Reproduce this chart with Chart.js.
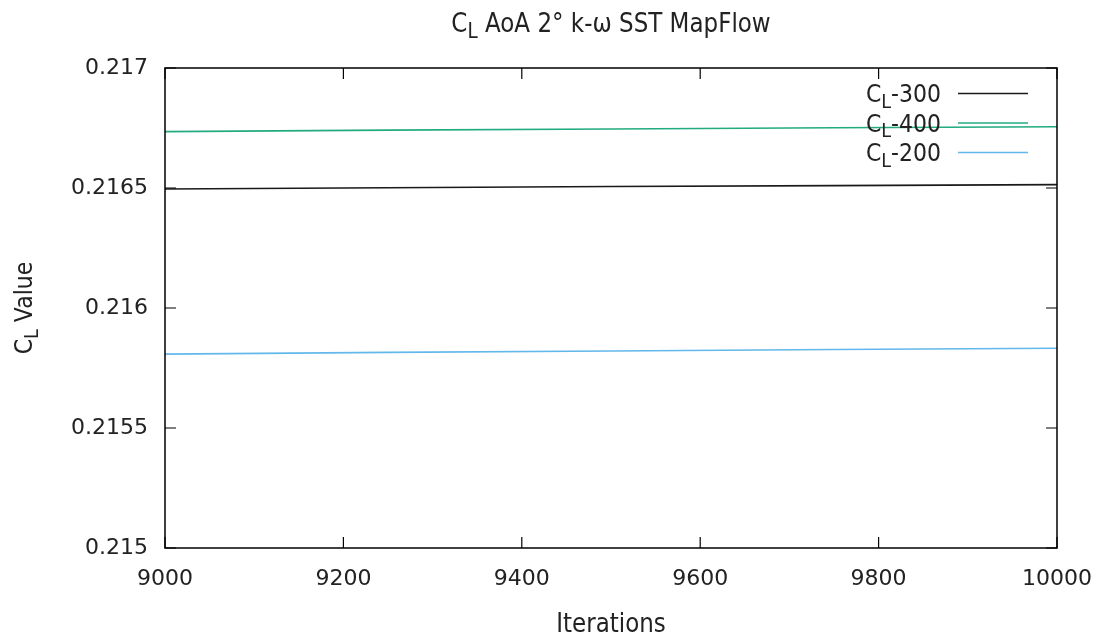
<!DOCTYPE html>
<html><head><meta charset="utf-8">
<script src="https://cdn.jsdelivr.net/npm/chart.js@4/dist/chart.umd.min.js"></script>
<style>html,body{margin:0;padding:0;background:#fff;} canvas{display:block}</style>
</head><body>
<canvas id="c" width="1105" height="637"></canvas>
<script>
const titleText = "C_L AoA 2° k-ω SST MapFlow";
const xAxisTitle = "Iterations";
const yAxisTitle = "C_L Value";
const iterations = [9000, 9250, 9500, 9750, 10000];
const seriesLabels = ["C_L-300", "C_L-400", "C_L-200"];
const cl300 = [0.216496, 0.216501, 0.216506, 0.216510, 0.216514];
const cl400 = [0.216735, 0.216741, 0.216746, 0.216751, 0.216755];
const cl200 = [0.215808, 0.215815, 0.215821, 0.215827, 0.215832];
const seriesColors = ["#1a1a1a", "#22ab80", "#62b8ea"];
const xTicks = [9000, 9200, 9400, 9600, 9800, 10000];
const yTicks = [0.215, 0.2155, 0.216, 0.2165, 0.217];

const FONT = '"DejaVu Sans", sans-serif';
const TEXT_COLOR = '#222';
const STRETCH = 1.12;

function segs(text) {
  const out = [];
  let buf = '';
  for (let i = 0; i < text.length; i++) {
    if (text[i] === '_' && i + 1 < text.length) {
      if (buf) out.push({t: buf, sub: false});
      buf = '';
      out.push({t: text[i + 1], sub: true});
      i++;
    } else buf += text[i];
  }
  if (buf) out.push({t: buf, sub: false});
  return out;
}
function drawRich(ctx, text, x, y, size, align) {
  const parts = segs(text);
  const subSize = size * 0.8;
  let total = 0;
  for (const p of parts) {
    ctx.font = (p.sub ? subSize : size) + 'px ' + FONT;
    p.w = ctx.measureText(p.t).width;
    total += p.w;
  }
  let cx = align === 'center' ? -total / 2 : align === 'right' ? -total : 0;
  ctx.save();
  ctx.translate(x, y);
  ctx.scale(1, STRETCH);
  ctx.textAlign = 'left';
  ctx.textBaseline = 'alphabetic';
  for (const p of parts) {
    ctx.font = (p.sub ? subSize : size) + 'px ' + FONT;
    ctx.fillText(p.t, cx, (p.sub ? size * 0.23 : 0));
    cx += p.w;
  }
  ctx.restore();
}

const decorPlugin = {
  id: 'decor',
  afterDraw(chart) {
    const ctx = chart.ctx;
    const a = chart.chartArea;
    const xs = chart.scales.x, ys = chart.scales.y;
    ctx.save();
    ctx.strokeStyle = '#000';
    ctx.lineWidth = 1.5;
    ctx.strokeRect(a.left, a.top, a.right - a.left, a.bottom - a.top);
    const tl = 11;
    ctx.lineWidth = 1.2;
    ctx.beginPath();
    for (const t of xs.ticks) {
      const px = xs.getPixelForValue(t.value);
      ctx.moveTo(px, a.bottom); ctx.lineTo(px, a.bottom - tl);
      ctx.moveTo(px, a.top); ctx.lineTo(px, a.top + tl);
    }
    for (const t of ys.ticks) {
      const py = ys.getPixelForValue(t.value);
      ctx.moveTo(a.left, py); ctx.lineTo(a.left + tl, py);
      ctx.moveTo(a.right, py); ctx.lineTo(a.right - tl, py);
    }
    ctx.stroke();
    ctx.fillStyle = TEXT_COLOR;
    drawRich(ctx, titleText, (a.left + a.right) / 2, 32, 23, 'center');
    drawRich(ctx, xAxisTitle, (a.left + a.right) / 2, 632, 23, 'center');
    ctx.save();
    ctx.translate(32, (a.top + a.bottom) / 2);
    ctx.rotate(-Math.PI / 2);
    drawRich(ctx, yAxisTitle, 0, 0, 22, 'center');
    ctx.restore();
    const rowY = [93.5, 123, 152.5];
    chart.data.datasets.forEach((ds, i) => {
      const y = rowY[i];
      ctx.fillStyle = TEXT_COLOR;
      drawRich(ctx, ds.label, 941, y + 8.5, 22, 'right');
      ctx.strokeStyle = ds.borderColor;
      ctx.lineWidth = 1.6;
      ctx.beginPath();
      ctx.moveTo(958, y); ctx.lineTo(1028, y);
      ctx.stroke();
    });
    ctx.restore();
  }
};

const seriesValues = [cl300, cl400, cl200];
const datasets = seriesLabels.map((lab, i) => ({
  label: lab,
  data: iterations.map((x, j) => ({x: x, y: seriesValues[i][j]})),
  borderColor: seriesColors[i],
  borderWidth: 1.6,
  pointRadius: 0,
  tension: 0,
  fill: false
}));

new Chart(document.getElementById('c'), {
  type: 'line',
  data: { datasets },
  options: {
    responsive: false,
    animation: false,
    devicePixelRatio: 1,
    layout: { padding: { left: 0, right: 48, top: 68, bottom: 0 } },
    plugins: { legend: { display: false }, title: { display: false }, tooltip: { enabled: false } },
    scales: {
      x: {
        type: 'linear', min: 9000, max: 10000,
        afterFit: s => { s.height = 89; s.paddingLeft = 0; s.paddingRight = 0; },
        afterBuildTicks: s => { s.ticks = xTicks.map(v => ({value: v})); },
        grid: { display: false, drawTicks: false },
        border: { display: false },
        ticks: { padding: 18, color: TEXT_COLOR, font: { family: FONT, size: 22 }, maxRotation: 0, autoSkip: false,
                 callback: v => String(v) }
      },
      y: {
        type: 'linear', min: 0.215, max: 0.217,
        afterFit: s => { s.width = 165; s.paddingTop = 0; s.paddingBottom = 0; },
        afterBuildTicks: s => { s.ticks = yTicks.map(v => ({value: v})); },
        grid: { display: false, drawTicks: false },
        border: { display: false },
        ticks: { padding: 17, color: TEXT_COLOR, font: { family: FONT, size: 22 }, autoSkip: false,
                 callback: v => String(+(+v).toFixed(4)) }
      }
    }
  },
  plugins: [decorPlugin]
});
</script>
</body></html>
